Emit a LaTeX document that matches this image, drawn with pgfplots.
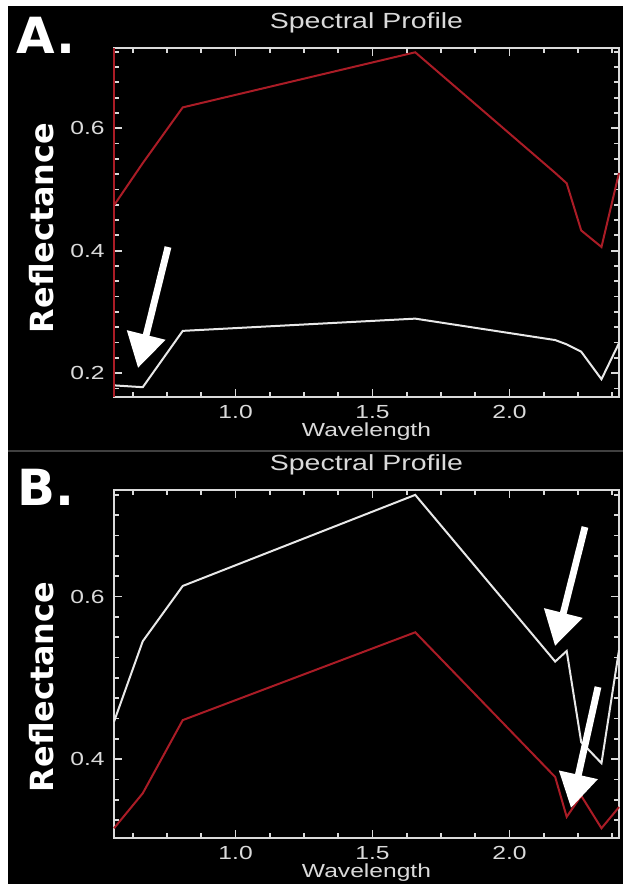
\documentclass[border=0pt]{standalone}
\usepackage{fontspec}
\usepackage{pgfplots}
\pgfplotsset{compat=1.18}
\usetikzlibrary{arrows.meta}
\setmainfont{Liberation Sans}
\newfontfamily\idl[FakeStretch=1.3]{Liberation Sans}
\newfontfamily\lab{DejaVu Sans}

\definecolor{frame}{RGB}{218,218,218}
\definecolor{curvered}{RGB}{170,28,38}
\definecolor{curvewhite}{RGB}{232,232,232}

% ASTER band centres (um) and reflectance
\pgfplotstableread{
x     red    white
0.556 0.474  0.180
0.661 0.543  0.177
0.807 0.634  0.269
1.656 0.724  0.289
2.167 0.527  0.254
2.209 0.510  0.247
2.262 0.433  0.235
2.336 0.406  0.190
2.400 0.527  0.249
}\panelA
\pgfplotstableread{
x     red    white
0.556 0.315  0.446
0.661 0.358  0.545
0.807 0.448  0.613
1.656 0.556  0.725
2.167 0.378  0.520
2.209 0.329  0.533
2.262 0.355  0.421
2.336 0.315  0.395
2.400 0.341  0.534
}\panelB

\pgfplotsset{
  spec/.style={
    scale only axis, width=252.5bp, height=174.5bp,
    xmin=0.556, xmax=2.4,
    axis line style={draw=frame, line width=1bp},
    tick style={draw=frame, line width=0.9bp},
    major tick length=4bp, minor tick length=2.5bp,
    tick align=inside, tickpos=both,
    xtick={1.0,1.5,2.0},
    minor xtick={0.625,0.75,0.875,1.125,1.25,1.375,1.625,1.75,1.875,2.125,2.25,2.375},
    /pgf/number format/.cd, fixed, fixed zerofill, precision=1, assume math mode=true,
    /pgfplots/.cd,
    ticklabel style={font=\idl\fontsize{9.5}{10}\selectfont, text=frame},
    xticklabel style={inner sep=0pt, yshift=-4bp},
    yticklabel style={inner sep=0pt, xshift=-4.5bp},
    title={Spectral Profile},
    title style={at={(axis description cs:0.5,1)}, anchor=base, yshift=4bp, inner sep=0pt,
      font=\idl\fontsize{11}{12}\selectfont, text=frame},
    xlabel={Wavelength},
    xlabel style={at={(axis description cs:0.5,0)}, anchor=north, yshift=-12.5bp, inner sep=0pt,
      font=\idl\fontsize{9.5}{11}\selectfont, text=frame},
    clip=false,
  },
}

\begin{document}
\begin{tikzpicture}
\useasboundingbox (0,0) rectangle (311.5bp,-445bp);
\fill[white] (0,0) rectangle (311.5bp,-445bp);
\fill[black] (4bp,-3bp) rectangle (311.5bp,-442bp);
\draw[black!75!white, line width=0.6bp] (4bp,-225.5bp) -- (311.5bp,-225.5bp);

% panel A
\begin{axis}[spec, at={(57bp,-198.5bp)}, anchor=south west,
  ymin=0.161, ymax=0.731, ytick={0.2,0.4,0.6},
  minor ytick={0.175,0.2,...,0.725}]
\addplot[curvered, line width=1bp] table[x=x, y=red] {\panelA};
\addplot[curvewhite, line width=1bp] table[x=x, y=white] {\panelA};
\draw[curvered, line width=1.2bp] (axis cs:0.556,0.161) -- (axis cs:0.556,0.731);
\end{axis}

% panel B
\begin{axis}[spec, at={(57bp,-419bp)}, anchor=south west, height=174bp,
  ymin=0.303, ymax=0.731, ytick={0.4,0.6},
  minor ytick={0.325,0.35,...,0.725}]
\addplot[curvewhite, line width=1bp] table[x=x, y=white] {\panelB};
\addplot[curvered, line width=1bp] table[x=x, y=red] {\panelB};
\end{axis}

\begin{scope}[x=0.5bp, y=-0.5bp]
\node[text=white, font=\lab\bfseries\fontsize{25}{27}\selectfont] at (46,35) {A.};
\node[text=white, font=\lab\bfseries\fontsize{25}{27}\selectfont] at (46,487) {B.};
\node[text=white, rotate=90, font=\lab\bfseries\fontsize{16}{18}\selectfont] at (42,228) {Reflectance};
\node[text=white, rotate=90, font=\lab\bfseries\fontsize{16}{18}\selectfont] at (42,687) {Reflectance};
\tikzset{bigarrow/.style={white, line width=3.4bp, -{Triangle[length=17bp, width=19bp]}}}
\draw[bigarrow] (168,247) -- (138,368);
\draw[bigarrow] (585,527) -- (555,646);
\draw[bigarrow] (598,687) -- (571,808);
\end{scope}
\end{tikzpicture}
\end{document}
